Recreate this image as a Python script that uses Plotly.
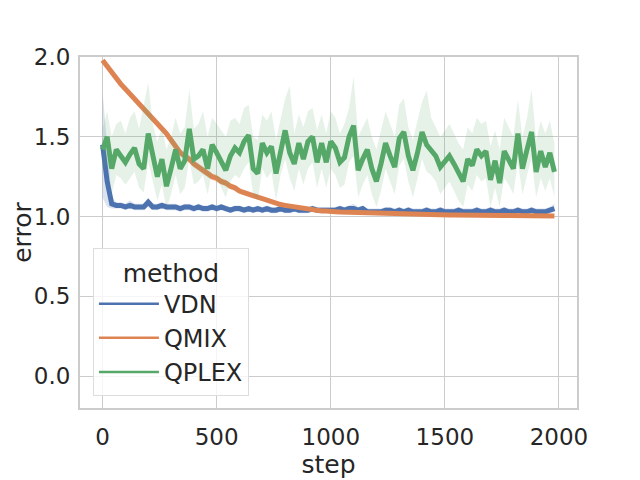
import plotly.graph_objects as go

# steps shared by all three methods
steps = list(range(0, 2000, 20))

# VDN mean error and confidence band
vdn = [
    1.45, 1.22, 1.08, 1.07, 1.07, 1.06, 1.07, 1.06, 1.06, 1.06,
    1.09, 1.06, 1.06, 1.07, 1.06, 1.06, 1.06, 1.05, 1.06, 1.06,
    1.05, 1.06, 1.05, 1.05, 1.06, 1.05, 1.06, 1.05, 1.04, 1.05,
    1.05, 1.04, 1.05, 1.04, 1.05, 1.04, 1.05, 1.04, 1.04, 1.05,
    1.04, 1.04, 1.05, 1.04, 1.04, 1.04, 1.05, 1.04, 1.04, 1.04,
    1.04, 1.04, 1.05, 1.04, 1.05, 1.05, 1.04, 1.05, 1.03, 1.03,
    1.03, 1.03, 1.04, 1.04, 1.03, 1.04, 1.03, 1.04, 1.03, 1.03,
    1.03, 1.04, 1.03, 1.03, 1.04, 1.03, 1.03, 1.03, 1.04, 1.03,
    1.03, 1.03, 1.04, 1.03, 1.03, 1.04, 1.03, 1.03, 1.04, 1.03,
    1.03, 1.04, 1.03, 1.03, 1.04, 1.03, 1.03, 1.03, 1.04, 1.05,
]
vdn_hi = [
    1.78, 1.45, 1.12, 1.09, 1.09, 1.08, 1.10, 1.08, 1.08, 1.08,
    1.12, 1.08, 1.08, 1.09, 1.08, 1.08, 1.08, 1.07, 1.08, 1.08,
    1.07, 1.08, 1.07, 1.07, 1.08, 1.07, 1.08, 1.07, 1.06, 1.07,
    1.07, 1.06, 1.07, 1.06, 1.07, 1.06, 1.07, 1.06, 1.06, 1.07,
    1.06, 1.06, 1.07, 1.06, 1.06, 1.06, 1.07, 1.06, 1.06, 1.06,
    1.06, 1.06, 1.07, 1.06, 1.07, 1.08, 1.06, 1.07, 1.05, 1.05,
    1.05, 1.05, 1.06, 1.06, 1.05, 1.06, 1.05, 1.06, 1.05, 1.05,
    1.05, 1.06, 1.05, 1.05, 1.06, 1.05, 1.05, 1.05, 1.06, 1.05,
    1.05, 1.05, 1.06, 1.05, 1.05, 1.06, 1.05, 1.05, 1.06, 1.05,
    1.05, 1.06, 1.05, 1.05, 1.06, 1.05, 1.05, 1.05, 1.06, 1.08,
]
vdn_lo = [
    1.12, 1.06, 1.05, 1.05, 1.05, 1.04, 1.05, 1.04, 1.04, 1.04,
    1.06, 1.04, 1.04, 1.05, 1.04, 1.04, 1.04, 1.03, 1.04, 1.04,
    1.03, 1.04, 1.03, 1.03, 1.04, 1.03, 1.04, 1.03, 1.02, 1.03,
    1.03, 1.02, 1.03, 1.02, 1.03, 1.02, 1.03, 1.02, 1.02, 1.03,
    1.02, 1.02, 1.03, 1.02, 1.02, 1.02, 1.03, 1.02, 1.02, 1.02,
    1.02, 1.02, 1.03, 1.02, 1.03, 1.03, 1.02, 1.03, 1.01, 1.01,
    1.01, 1.01, 1.02, 1.02, 1.01, 1.02, 1.01, 1.02, 1.01, 1.01,
    1.01, 1.02, 1.01, 1.01, 1.02, 1.01, 1.01, 1.01, 1.02, 1.01,
    1.01, 1.01, 1.02, 1.01, 1.01, 1.02, 1.01, 1.01, 1.02, 1.01,
    1.01, 1.02, 1.01, 1.01, 1.02, 1.01, 1.01, 1.01, 1.02, 1.03,
]

# QMIX mean error and band half-width
qmix = [
    1.98, 1.94, 1.90, 1.87, 1.83, 1.80, 1.77, 1.74, 1.70, 1.67,
    1.64, 1.61, 1.58, 1.55, 1.52, 1.48, 1.44, 1.40, 1.38, 1.36,
    1.33, 1.31, 1.29, 1.27, 1.25, 1.24, 1.22, 1.21, 1.19, 1.18,
    1.16, 1.15, 1.14, 1.13, 1.12, 1.11, 1.10, 1.09, 1.085, 1.075,
    1.07, 1.065, 1.06, 1.055, 1.05, 1.045, 1.04, 1.04, 1.035, 1.035,
    1.03, 1.03, 1.028, 1.027, 1.025, 1.024, 1.023, 1.022, 1.021, 1.02,
    1.02, 1.019, 1.018, 1.017, 1.016, 1.016, 1.015, 1.014, 1.014, 1.013,
    1.013, 1.012, 1.012, 1.011, 1.011, 1.01, 1.01, 1.01, 1.009, 1.009,
    1.009, 1.008, 1.008, 1.008, 1.007, 1.007, 1.007, 1.007, 1.006, 1.006,
    1.006, 1.006, 1.005, 1.005, 1.005, 1.005, 1.005, 1.004, 1.004, 1.004,
]
qmix_ci = [
    0.004, 0.006, 0.008, 0.010, 0.012, 0.013, 0.014, 0.015, 0.016, 0.017,
    0.018, 0.019, 0.020, 0.021, 0.022, 0.022, 0.023, 0.023, 0.024, 0.024,
    0.024, 0.024, 0.024, 0.024, 0.023, 0.023, 0.022, 0.022, 0.021, 0.020,
    0.019, 0.018, 0.017, 0.016, 0.015, 0.014, 0.013, 0.012, 0.011, 0.010,
    0.010, 0.009, 0.008, 0.008, 0.007, 0.007, 0.006, 0.006, 0.005, 0.005,
    0.005, 0.004, 0.004, 0.004, 0.004, 0.003, 0.003, 0.003, 0.003, 0.003,
    0.003, 0.002, 0.002, 0.002, 0.002, 0.002, 0.002, 0.002, 0.002, 0.002,
    0.002, 0.002, 0.002, 0.002, 0.002, 0.002, 0.002, 0.002, 0.002, 0.002,
    0.002, 0.002, 0.002, 0.002, 0.002, 0.002, 0.002, 0.002, 0.002, 0.002,
    0.002, 0.002, 0.002, 0.002, 0.002, 0.002, 0.002, 0.002, 0.002, 0.002,
]

# QPLEX mean error and confidence band
qplex = [
    1.42, 1.50, 1.30, 1.42, 1.38, 1.34, 1.39, 1.43, 1.33, 1.30,
    1.52, 1.38, 1.25, 1.36, 1.19, 1.30, 1.42, 1.30, 1.35, 1.55,
    1.36, 1.38, 1.42, 1.30, 1.45, 1.40, 1.35, 1.29, 1.38, 1.43,
    1.40, 1.47, 1.51, 1.30, 1.27, 1.46, 1.40, 1.44, 1.27, 1.42,
    1.54, 1.40, 1.33, 1.46, 1.36, 1.47, 1.50, 1.34, 1.46, 1.34,
    1.47, 1.43, 1.34, 1.37, 1.50, 1.57, 1.29, 1.36, 1.42, 1.30,
    1.22, 1.33, 1.46, 1.38, 1.31, 1.49, 1.53, 1.38, 1.29, 1.40,
    1.53, 1.45, 1.42, 1.38, 1.31, 1.34, 1.38, 1.33, 1.27, 1.22,
    1.36, 1.32, 1.42, 1.38, 1.41, 1.23, 1.35, 1.21, 1.41, 1.36,
    1.30, 1.52, 1.30, 1.42, 1.53, 1.28, 1.41, 1.31, 1.40, 1.28,
]
qplex_hi = [
    1.55, 1.66, 1.50, 1.58, 1.60, 1.52, 1.62, 1.66, 1.55, 1.70,
    1.84, 1.58, 1.47, 1.56, 1.42, 1.50, 1.62, 1.52, 1.56, 1.80,
    1.55, 1.58, 1.66, 1.50, 1.62, 1.58, 1.54, 1.50, 1.60, 1.62,
    1.58, 1.68, 1.70, 1.50, 1.48, 1.64, 1.60, 1.66, 1.48, 1.62,
    1.74, 1.82, 1.52, 1.64, 1.56, 1.66, 1.68, 1.54, 1.64, 1.52,
    1.66, 1.62, 1.52, 1.58, 1.68, 1.88, 1.50, 1.56, 1.62, 1.50,
    1.42, 1.54, 1.66, 1.58, 1.50, 1.70, 1.74, 1.56, 1.48, 1.60,
    1.72, 1.79, 1.62, 1.56, 1.50, 1.54, 1.58, 1.52, 1.46, 1.42,
    1.56, 1.52, 1.62, 1.58, 1.60, 1.44, 1.54, 1.42, 1.62, 1.56,
    1.50, 1.73, 1.50, 1.62, 1.80, 1.48, 1.60, 1.52, 1.60, 1.46,
]
qplex_lo = [
    1.28, 1.34, 1.14, 1.26, 1.24, 1.20, 1.24, 1.28, 1.18, 1.15,
    1.34, 1.22, 1.10, 1.20, 1.05, 1.14, 1.26, 1.14, 1.18, 1.36,
    1.20, 1.22, 1.26, 1.14, 1.28, 1.24, 1.18, 1.12, 1.22, 1.26,
    1.24, 1.30, 1.34, 1.14, 1.10, 1.30, 1.24, 1.28, 1.10, 1.26,
    1.36, 1.24, 1.16, 1.30, 1.20, 1.30, 1.34, 1.18, 1.30, 1.18,
    1.30, 1.26, 1.18, 1.20, 1.34, 1.38, 1.12, 1.20, 1.26, 1.14,
    1.06, 1.16, 1.30, 1.22, 1.14, 1.32, 1.36, 1.22, 1.12, 1.24,
    1.36, 1.28, 1.26, 1.22, 1.14, 1.18, 1.22, 1.16, 1.10, 1.06,
    1.20, 1.16, 1.26, 1.22, 1.24, 1.06, 1.18, 1.06, 1.24, 1.20,
    1.14, 1.34, 1.14, 1.26, 1.36, 1.12, 1.24, 1.16, 1.24, 1.12,
]

series = [
    ("VDN", vdn, vdn_lo, vdn_hi, "#4c72b0", "rgba(76,114,176,0.2)"),
    ("QMIX", qmix, [m - c for m, c in zip(qmix, qmix_ci)],
     [m + c for m, c in zip(qmix, qmix_ci)], "#dd8452", "rgba(221,132,82,0.2)"),
    ("QPLEX", qplex, qplex_lo, qplex_hi, "#55a868", "rgba(85,168,104,0.15)"),
]

fig = go.Figure()

for name, mean, lo, hi, color, band in series:
    # band first, then the mean line on top
    fig.add_trace(go.Scatter(x=steps, y=lo, mode="lines", line=dict(width=0),
                             showlegend=False, hoverinfo="skip"))
    fig.add_trace(go.Scatter(x=steps, y=hi, mode="lines", line=dict(width=0),
                             fill="tonexty", fillcolor=band,
                             showlegend=False, hoverinfo="skip"))
    fig.add_trace(go.Scatter(x=steps, y=mean, mode="lines", name=name,
                             line=dict(color=color, width=5), showlegend=False))

# thinner legend samples, like the seaborn legend handles
for name, _, _, _, color, _ in series:
    fig.add_trace(go.Scatter(x=[None], y=[None], mode="lines", name=name,
                             line=dict(color=color, width=2.5)))

axis_style = dict(
    automargin=False,
    showgrid=True, gridcolor="#cccccc", gridwidth=1.3,
    showline=True, linecolor="#cccccc", linewidth=2, mirror=True,
    zeroline=False,
    ticks="outside", tickcolor="rgba(0,0,0,0)",
    tickfont=dict(size=23, color="#262626"),
)

fig.update_xaxes(range=[-99, 2079], tickvals=[0, 500, 1000, 1500, 2000], ticklen=7,
                 title=dict(text="step", font=dict(size=25, color="#262626"), standoff=0),
                 **axis_style)
fig.update_yaxes(range=[-0.2, 2.0], tickvals=[0.0, 0.5, 1.0, 1.5, 2.0], ticklen=3,
                 tickformat=".1f",
                 title=dict(text="error", font=dict(size=25, color="#262626"), standoff=10),
                 **axis_style)

# the page body adds an 8px offset, so the margins are shifted to compensate
fig.update_layout(
    width=640, height=480,
    margin=dict(l=72, r=71, t=49, b=80),
    paper_bgcolor="white", plot_bgcolor="white",
    font=dict(family="DejaVu Sans", color="#262626"),
    legend=dict(
        title=dict(text="method", side="top center", font=dict(size=25)),
        font=dict(size=24),
        traceorder="normal",
        itemwidth=60,
        x=0.026, y=0.034, xanchor="left", yanchor="bottom",
        bgcolor="rgba(255,255,255,0.8)", bordercolor="#dddddd", borderwidth=1,
    ),
)

fig.write_html("out.html")
